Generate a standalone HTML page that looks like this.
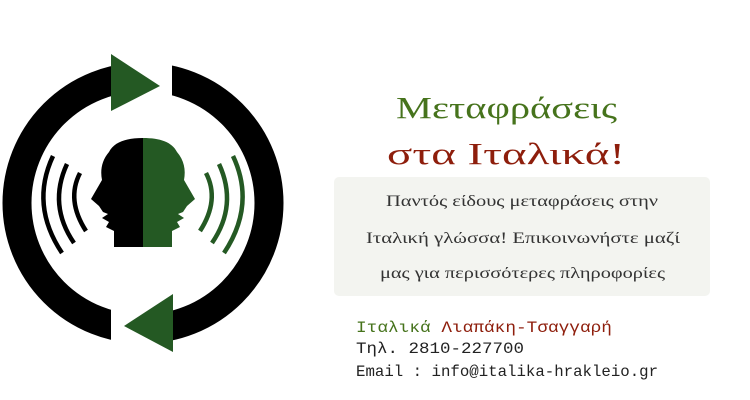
<!DOCTYPE html>
<html><head><meta charset="utf-8"><style>
html,body{margin:0;padding:0;background:#fff;width:750px;height:400px;overflow:hidden}
</style></head><body>
<svg width="750" height="400" viewBox="0 0 750 400" xmlns="http://www.w3.org/2000/svg">
<circle cx="143" cy="203" r="126" fill="none" stroke="#000" stroke-width="29"/>
<rect x="111" y="50" width="61" height="75" fill="#fff"/>
<rect x="111" y="280" width="61" height="75" fill="#fff"/>
<polygon points="111,54 160,86 111,111" fill="#245923"/>
<polygon points="173,294 124,326 173,352" fill="#245923"/>
<path d="M143,138 C160,138 172,142 177,152 C184,160 186,170 184,180 L195,199 L187,206 L183,212 L178,214 L184,218 L177,222 L180,227 L172,231 L172,247 L143,247 Z" fill="#245923"/>
<path d="M143,138 C126,138 114,142 109,152 C102,160 100,170 102,180 L91,199 L99,206 L103,212 L108,214 L102,218 L109,222 L106,227 L114,231 L114,247 L143,247 Z" fill="#000"/>
<g fill="none" stroke-width="4.5">
<path d="M206,173 Q220,200 200,231" stroke="#245923"/>
<path d="M219,164 Q238,205 212,243" stroke="#245923"/>
<path d="M233,156 Q256,205 224,253" stroke="#245923"/>
<path d="M80,173 Q66,200 86,231" stroke="#000"/>
<path d="M67,164 Q48,205 74,243" stroke="#000"/>
<path d="M53,156 Q30,205 62,253" stroke="#000"/>
</g>
<g font-family="Liberation Serif, serif">
<text x="396" y="118" font-size="31" fill="#46731c" textLength="221" lengthAdjust="spacingAndGlyphs">Μεταφράσεις</text>
<text x="387" y="164" font-size="31" fill="#8e1e0c" textLength="238" lengthAdjust="spacingAndGlyphs">στα Ιταλικά!</text>
</g>
<rect x="334" y="177" width="376" height="119" rx="5" fill="#f3f4f0"/>
<g font-family="Liberation Serif, serif" font-size="16" fill="#333">
<text x="386" y="206" textLength="272" lengthAdjust="spacingAndGlyphs">Παντός είδους μεταφράσεις στην</text>
<text x="366" y="243" textLength="314" lengthAdjust="spacingAndGlyphs">Ιταλική γλώσσα! Επικοινωνήστε μαζί</text>
<text x="380" y="278" textLength="285" lengthAdjust="spacingAndGlyphs">μας για περισσότερες πληροφορίες</text>
</g>
<g font-family="Liberation Mono, monospace" font-size="16">
<text x="356" y="332" textLength="256" lengthAdjust="spacingAndGlyphs"><tspan fill="#46731c">Ιταλικά</tspan><tspan fill="#8e1e0c"> Λιαπάκη-Τσαγγαρή</tspan></text>
<text x="356" y="353" fill="#222" textLength="168" lengthAdjust="spacingAndGlyphs">Τηλ. 2810-227700</text>
<text x="356" y="376" fill="#222" textLength="302" lengthAdjust="spacingAndGlyphs">Email : info@italika-hrakleio.gr</text>
</g>
</svg>
</body></html>
